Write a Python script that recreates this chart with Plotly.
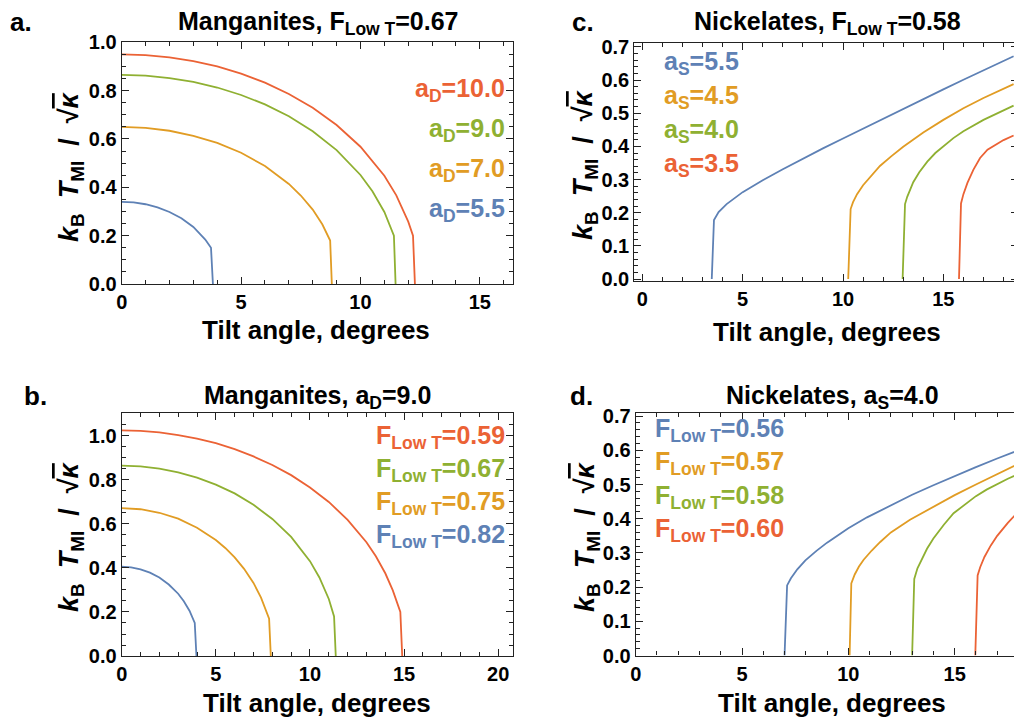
import plotly.graph_objects as go

BLUE = "#5E81B5"
ORANGE = "#E19C24"
GREEN = "#8FB032"
RED = "#EB6235"

# ---------------- Panel a: Manganites, F_LowT = 0.67 ----------------
a_x_100 = [0, 1, 2, 3, 4, 5, 6, 7, 8, 9, 10, 11, 11.5, 12.0, 12.2, 12.28]
a_y_100 = [0.95, 0.947, 0.938, 0.922, 0.900, 0.870, 0.833, 0.786, 0.729, 0.658, 0.568, 0.448, 0.367, 0.258, 0.20, 0.0]
a_x_90 = [0, 1, 2, 3, 4, 5, 6, 7, 8, 9, 10, 10.5, 11, 11.4, 11.47]
a_y_90 = [0.865, 0.862, 0.852, 0.836, 0.813, 0.782, 0.743, 0.694, 0.632, 0.554, 0.451, 0.384, 0.298, 0.20, 0.0]
a_x_70 = [0, 1, 2, 3, 4, 5, 6, 7, 7.5, 8, 8.4, 8.73, 8.8]
a_y_70 = [0.65, 0.646, 0.634, 0.613, 0.584, 0.543, 0.488, 0.414, 0.366, 0.308, 0.247, 0.18, 0.0]
a_x_55 = [0, 0.5, 1, 1.5, 2, 2.5, 3, 3.3, 3.5, 3.74, 3.82]
a_y_55 = [0.34, 0.3375, 0.330, 0.317, 0.298, 0.272, 0.236, 0.207, 0.184, 0.15, 0.0]

# ---------------- Panel b: Manganites, a_D = 9.0 ----------------
b_x_059 = [0, 1, 2, 3, 4, 5, 6, 7, 8, 9, 10, 11, 12, 13, 13.5, 14, 14.4, 14.8, 14.9]
b_y_059 = [1.025, 1.023, 1.016, 1.004, 0.988, 0.967, 0.940, 0.907, 0.868, 0.822, 0.766, 0.700, 0.619, 0.517, 0.453, 0.376, 0.298, 0.20, 0.0]
b_x_067 = [0, 1, 2, 3, 4, 5, 6, 7, 8, 9, 10, 10.5, 11, 11.28, 11.37]
b_y_067 = [0.865, 0.862, 0.852, 0.835, 0.811, 0.779, 0.739, 0.687, 0.623, 0.541, 0.431, 0.357, 0.259, 0.18, 0.0]
b_x_075 = [0, 1, 2, 3, 4, 5, 5.5, 6, 6.5, 7, 7.4, 7.83, 7.92]
b_y_075 = [0.672, 0.667, 0.651, 0.624, 0.583, 0.527, 0.491, 0.448, 0.396, 0.332, 0.265, 0.17, 0.0]
b_x_082 = [0, 0.5, 1, 1.5, 2, 2.5, 3, 3.3, 3.6, 3.88, 3.97]
b_y_082 = [0.406, 0.403, 0.394, 0.379, 0.357, 0.325, 0.283, 0.249, 0.206, 0.15, 0.0]

# ---------------- Panel c: Nickelates, F_LowT = 0.58 ----------------
c_x_55 = [3.46, 3.57, 3.8, 4.2, 5, 6, 7, 8, 9, 10, 11, 12, 13, 14, 15, 16, 17, 18.5]
c_y_55 = [0.0, 0.178, 0.202, 0.226, 0.262, 0.298, 0.331, 0.363, 0.394, 0.424, 0.454, 0.484,
          0.514, 0.543, 0.572, 0.601, 0.629, 0.672]
c_x_45 = [10.26, 10.38, 10.5, 10.7, 11.0, 11.4, 11.84, 12.4, 13, 14, 15, 16, 17, 18.5]
c_y_45 = [0.0, 0.211, 0.232, 0.256, 0.283, 0.312, 0.341, 0.370, 0.399, 0.442, 0.48, 0.515, 0.546, 0.588]
c_x_40 = [12.97, 13.09, 13.2, 13.35, 13.5, 13.8, 14.2, 14.6, 15, 15.5, 16, 17, 18.5]
c_y_40 = [0.0, 0.226, 0.248, 0.272, 0.292, 0.322, 0.354, 0.38, 0.401, 0.425, 0.446, 0.480, 0.523]
c_x_35 = [15.78, 15.88, 16.0, 16.2, 16.5, 16.83, 17.2, 17.6, 18.0, 18.5]
c_y_35 = [0.0, 0.228, 0.256, 0.29, 0.33, 0.365, 0.39, 0.405, 0.419, 0.433]

# ---------------- Panel d: Nickelates, a_S = 4.0 ----------------
d_x_056 = [7.0, 7.12, 7.3, 7.6, 7.98, 8.5, 9, 9.5, 10, 10.88, 12, 13, 14, 15, 16, 17, 18.09]
d_y_056 = [0.0, 0.205, 0.226, 0.252, 0.278, 0.306, 0.330, 0.352, 0.372, 0.404, 0.440, 0.470,
           0.498, 0.525, 0.551, 0.576, 0.602]
d_x_057 = [10.06, 10.14, 10.3, 10.5, 10.72, 11.1, 11.5, 12, 12.9, 14, 15, 16, 17, 18.09]
d_y_057 = [0.0, 0.211, 0.237, 0.26, 0.28, 0.307, 0.332, 0.36, 0.397, 0.436, 0.469, 0.5, 0.531, 0.563]
d_x_058 = [13.0, 13.1, 13.25, 13.46, 13.7, 14, 14.5, 14.95, 15.5, 16, 16.5, 17, 17.5, 18.09]
d_y_058 = [0.0, 0.224, 0.255, 0.284, 0.312, 0.342, 0.383, 0.416, 0.443, 0.466, 0.485, 0.502, 0.517, 0.533]
d_x_060 = [15.97, 16.08, 16.2, 16.4, 16.7, 17, 17.5, 18.09]
d_y_060 = [0.0, 0.234, 0.258, 0.288, 0.322, 0.35, 0.388, 0.427]

# legend labels
a_labels = ["a<sub>D</sub>=10.0", "a<sub>D</sub>=9.0", "a<sub>D</sub>=7.0", "a<sub>D</sub>=5.5"]
b_labels = ["F<sub>Low T</sub>=0.59", "F<sub>Low T</sub>=0.67", "F<sub>Low T</sub>=0.75", "F<sub>Low T</sub>=0.82"]
c_labels = ["a<sub>S</sub>=5.5", "a<sub>S</sub>=4.5", "a<sub>S</sub>=4.0", "a<sub>S</sub>=3.5"]
d_labels = ["F<sub>Low T</sub>=0.56", "F<sub>Low T</sub>=0.57", "F<sub>Low T</sub>=0.58", "F<sub>Low T</sub>=0.60"]
titles = ["Manganites, F<sub>Low T</sub>=0.67", "Manganites, a<sub>D</sub>=9.0",
          "Nickelates, F<sub>Low T</sub>=0.58", "Nickelates, a<sub>S</sub>=4.0"]
panel_tags = ["a.", "b.", "c.", "d."]
x_title = "Tilt angle, degrees"
NB = "\u00a0"
y_title = ("<i>k</i><sub>B</sub>" + NB * 2 + "<i>T</i><sub>MI</sub>" + NB * 2 + "/" + NB * 2 + "√"
           "<span style='text-decoration:overline'><i>κ</i></span>")

# page offset (browser body margin) compensation
OFF = 8
W, H = 1022 - OFF, 725 - OFF
FONT = "Liberation Sans, Arial, sans-serif"


def px(x):
    return (x - OFF) / W


def py(y):
    return 1 - (y - OFF) / H


fig = go.Figure()

series = [
    ("x", "y", [(a_x_100, a_y_100, RED), (a_x_90, a_y_90, GREEN), (a_x_70, a_y_70, ORANGE), (a_x_55, a_y_55, BLUE)]),
    ("x2", "y2", [(b_x_059, b_y_059, RED), (b_x_067, b_y_067, GREEN), (b_x_075, b_y_075, ORANGE), (b_x_082, b_y_082, BLUE)]),
    ("x3", "y3", [(c_x_55, c_y_55, BLUE), (c_x_45, c_y_45, ORANGE), (c_x_40, c_y_40, GREEN), (c_x_35, c_y_35, RED)]),
    ("x4", "y4", [(d_x_056, d_y_056, BLUE), (d_x_057, d_y_057, ORANGE), (d_x_058, d_y_058, GREEN), (d_x_060, d_y_060, RED)]),
]
for xa, ya, lst in series:
    for xs, ys, col in lst:
        fig.add_trace(go.Scatter(x=xs, y=ys, mode="lines", xaxis=xa, yaxis=ya,
                                 line=dict(color=col, width=1.8), showlegend=False,
                                 hoverinfo="skip", cliponaxis=True))

FRAME = "#222222"


def axis(domain, rng, dtick, minor, anchor, fmt):
    return dict(domain=domain, range=rng, dtick=dtick, tick0=0, anchor=anchor,
                automargin=False,
                ticks="inside", ticklen=7, tickwidth=1, tickcolor=FRAME,
                mirror="ticks", showline=True, linecolor=FRAME, linewidth=1.2,
                showgrid=False, zeroline=False, tickformat=fmt,
                minor=dict(ticks="inside", dtick=minor, ticklen=4, tickwidth=1,
                           tickcolor=FRAME, showgrid=False),
                tickfont=dict(family=FONT, size=20, color="black", weight="bold"))


# frames (pixel positions in the page: left, right, top, bottom)
fa = (121.7, 513.3, 42.3, 284.0)
fb = (121.7, 513.3, 413.3, 656.0)
fc = (634.3, 1018.0, 43.3, 281.0)
fd = (635.7, 1021.0, 412.7, 655.5)


def dom(f):
    return [px(f[0]), min(px(f[1]), 1.0)], [py(f[3]), py(f[2])]


ax_a, ay_a = dom(fa)
ax_b, ay_b = dom(fb)
ax_c, ay_c = dom(fc)
ax_d, ay_d = dom(fd)

fig.update_layout(
    template="none",
    width=W, height=H, margin=dict(l=0, r=0, t=0, b=0, autoexpand=False),
    paper_bgcolor="white", plot_bgcolor="white",
    font=dict(family=FONT),
    xaxis=axis(ax_a, [0, 16.4], 5, 1, "y", "d"),
    yaxis=axis(ay_a, [0, 1.0], 0.2, 0.05, "x", ".1f"),
    xaxis2=axis(ax_b, [0, 20.8], 5, 1, "y2", "d"),
    yaxis2=axis(ay_b, [0, 1.103], 0.2, 0.05, "x2", ".1f"),
    xaxis3=axis(ax_c, [-0.4, 18.72], 5, 1, "y3", "d"),
    yaxis3=axis(ay_c, [-0.006, 0.711], 0.1, 0.02, "x3", ".1f"),
    xaxis4=axis(ax_d, [0, 18.12], 5, 1, "y4", "d"),
    yaxis4=axis(ay_d, [0, 0.71], 0.1, 0.02, "x4", ".1f"),
)

ann = []


def text(x, y, t, size, color="black", xanchor="center", angle=0):
    ann.append(dict(x=px(x), y=py(y), xref="paper", yref="paper", text=t,
                    showarrow=False, xanchor=xanchor, yanchor="middle", textangle=angle,
                    font=dict(family=FONT, size=size, color=color, weight="bold")))


# titles
text(318, 23, titles[0], 25)
text(317, 397, titles[1], 25)
text(827, 23, titles[2], 25)
text(832, 397, titles[3], 25)
# panel tags
text(8, 22, panel_tags[0], 26, xanchor="left")
text(22, 396, panel_tags[1], 26, xanchor="left")
text(570, 22, panel_tags[2], 26, xanchor="left")
text(568, 396, panel_tags[3], 26, xanchor="left")
# x titles
text(316, 330, x_title, 26)
text(317, 703, x_title, 26)
text(827, 332, x_title, 26)
text(832, 703, x_title, 26)
# y titles
text(71, 167, y_title, 27, angle=-90)
text(71, 537, y_title, 27, angle=-90)
text(585, 165, y_title, 27, angle=-90)
text(587, 537, y_title, 27, angle=-90)

# in-plot labels
a_cols = [RED, GREEN, ORANGE, BLUE]
for i, (lab, yy) in enumerate(zip(a_labels, [90, 130, 170, 210])):
    text(507, yy, lab, 25, a_cols[i], xanchor="right")
for i, (lab, yy) in enumerate(zip(b_labels, [437, 470, 503, 536])):
    text(507, yy, lab, 25, a_cols[i], xanchor="right")
c_cols = [BLUE, ORANGE, GREEN, RED]
for i, (lab, yy) in enumerate(zip(c_labels, [63, 97, 131, 165])):
    text(662, yy, lab, 25, c_cols[i], xanchor="left")
for i, (lab, yy) in enumerate(zip(d_labels, [430, 463, 497, 530])):
    text(653, yy, lab, 25, c_cols[i], xanchor="left")

fig.update_layout(annotations=ann)
fig.write_html("out.html")
